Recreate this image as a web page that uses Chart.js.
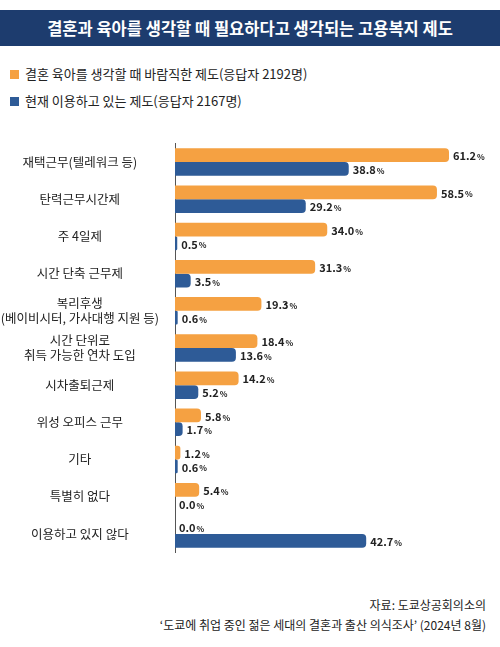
<!DOCTYPE html><html><head><meta charset="utf-8">
<script src="https://cdn.jsdelivr.net/npm/chart.js@4"></script>
<style>
body{margin:0;width:500px;height:647px;background:#fff;font-family:"Noto Sans CJK KR","Noto Sans",sans-serif;position:relative;overflow:hidden}
#title{position:absolute;left:0;top:10px;width:500px;height:36px;background:#1d3c6e;color:#fff;font-weight:bold;font-size:16.5px;text-align:center;line-height:36px}
.lg{position:absolute;left:10px;font-size:13px;color:#222}
.lg span{display:inline-block;width:9px;height:9px;margin-right:6px}
#wrap{position:absolute;left:0;top:128px;width:500px;height:440px}
#src{position:absolute;right:14px;top:595px;text-align:right;font-size:12px;color:#222;line-height:20px}
</style></head><body>
<div id="title">결혼과 육아를 생각할 때 필요하다고 생각되는 고용복지 제도</div>
<div class="lg" style="top:64px"><span style="background:#f5a142"></span>결혼 육아를 생각할 때 바람직한 제도(응답자 2192명)</div>
<div class="lg" style="top:91px"><span style="background:#2e5b97"></span>현재 이용하고 있는 제도(응답자 2167명)</div>
<div id="wrap"><canvas id="c"></canvas></div>
<div id="src">자료: 도쿄상공회의소의<br>‘도쿄에 취업 중인 젊은 세대의 결혼과 출산 의식조사’ (2024년 8월)</div>
<script>
const categories=[["재택근무(텔레워크 등)"],["탄력근무시간제"],["주 4일제"],["시간 단축 근무제"],["복리후생","(베이비시터, 가사대행 지원 등)"],["시간 단위로","취득 가능한 연차 도입"],["시차출퇴근제"],["위성 오피스 근무"],["기타"],["특별히 없다"],["이용하고 있지 않다"]];
const desired=[61.2,58.5,34.0,31.3,19.3,18.4,14.2,5.8,1.2,5.4,0.0];
const current=[38.8,29.2,0.5,3.5,0.6,13.6,5.2,1.7,0.6,0.0,42.7];
const labelPlugin={id:'lbl',afterDatasetsDraw(ch){const ctx=ch.ctx;ch.data.datasets.forEach((ds,i)=>{ch.getDatasetMeta(i).data.forEach((b,j)=>{const v=ds.data[j].toFixed(1);const x=b.x+4,y=b.y+1;ctx.fillStyle='#222';ctx.textBaseline='middle';ctx.font='bold 11px "Noto Sans CJK KR"';ctx.fillText(v,x,y);const w=ctx.measureText(v).width;ctx.font='bold 8px "Noto Sans CJK KR"';ctx.fillText('%',x+w+1,y+1);});});}};
new Chart(document.getElementById('c'),{type:'bar',data:{labels:categories,datasets:[{data:desired,backgroundColor:'#f5a142',borderRadius:{topRight:4,bottomRight:4},borderSkipped:false,categoryPercentage:0.74,barPercentage:1},{data:current,backgroundColor:'#2e5b97',borderRadius:{topRight:4,bottomRight:4},categoryPercentage:0.74,barPercentage:1}]},
options:{indexAxis:'y',responsive:true,maintainAspectRatio:false,animation:false,layout:{padding:{right:25,left:0,top:0,bottom:0}},plugins:{legend:{display:false},tooltip:{enabled:false}},
scales:{x:{min:0,max:67,display:false},y:{grid:{display:false},border:{color:'#555',width:1},ticks:{color:'#222',font:{size:12.5,family:'"Noto Sans CJK KR"'},padding:8,crossAlign:'center'},afterFit(s){s.width=175}}}},plugins:[labelPlugin]});
</script></body></html>
